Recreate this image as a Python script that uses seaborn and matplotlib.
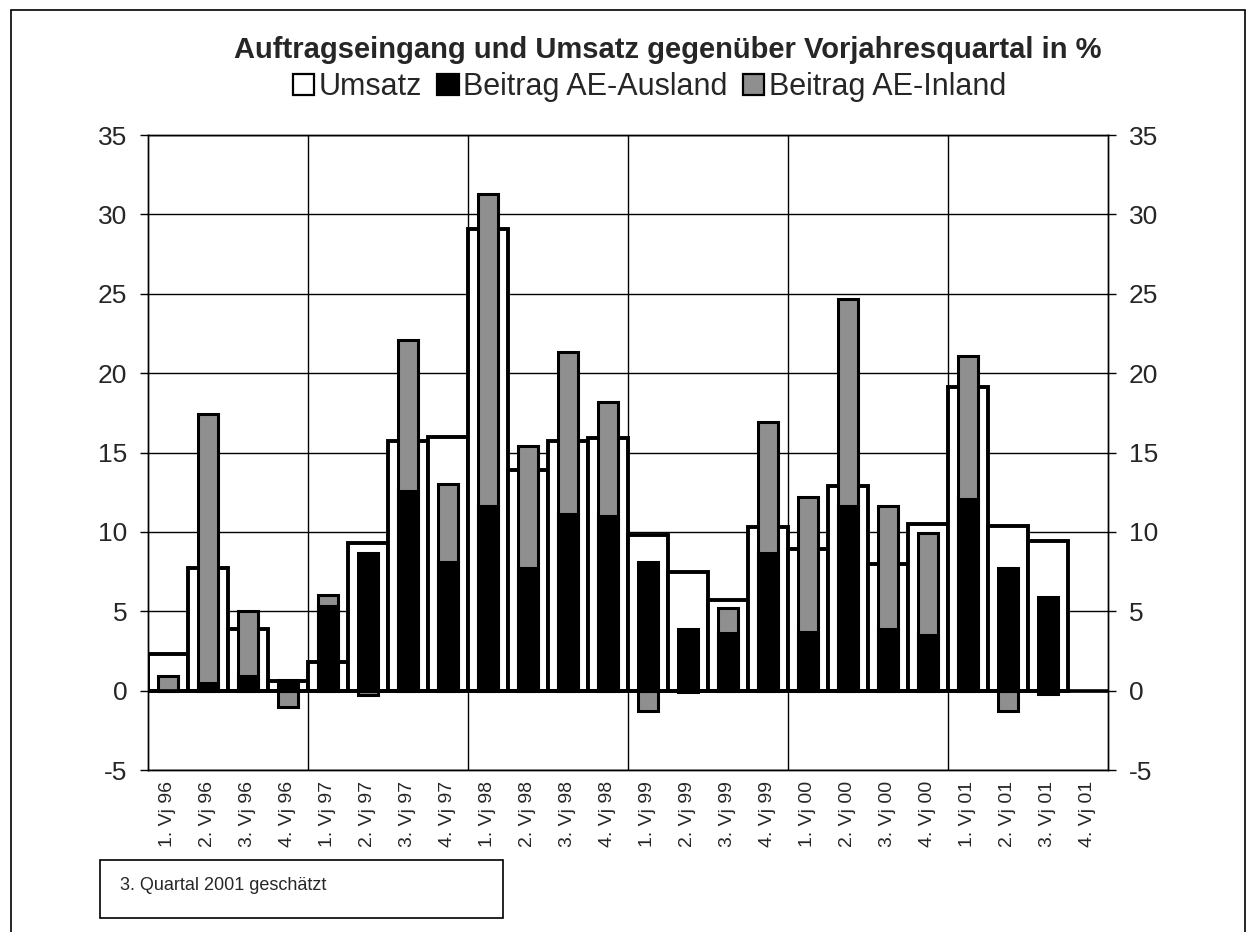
import numpy as np
import pandas as pd
import matplotlib
matplotlib.use('Agg')
import matplotlib.pyplot as plt
from matplotlib.patches import Rectangle, Patch
import seaborn as sns

# Quarterly change vs. previous-year quarter in %
quarters = ['1. Vj 96', '2. Vj 96', '3. Vj 96', '4. Vj 96',
            '1. Vj 97', '2. Vj 97', '3. Vj 97', '4. Vj 97',
            '1. Vj 98', '2. Vj 98', '3. Vj 98', '4. Vj 98',
            '1. Vj 99', '2. Vj 99', '3. Vj 99', '4. Vj 99',
            '1. Vj 00', '2. Vj 00', '3. Vj 00', '4. Vj 00',
            '1. Vj 01', '2. Vj 01', '3. Vj 01', '4. Vj 01']
umsatz = [2.3, 7.7, 3.9, 0.6, 1.8, 9.3, 15.7, 16.0,
          29.1, 13.9, 15.7, 15.9, 9.8, 7.5, 5.7, 10.3,
          8.9, 12.9, 8.0, 10.5, 19.1, 10.4, 9.4, np.nan]
ausland = [0.0, 0.5, 0.9, 0.7, 5.3, 8.7, 12.6, 8.1,
           11.6, 7.7, 11.1, 11.0, 8.1, 3.9, 3.6, 8.7,
           3.7, 11.6, 3.9, 3.5, 12.1, 7.7, 5.9, np.nan]
inland = [0.9, 16.9, 4.1, -1.0, 0.7, -0.3, 9.5, 4.9,
          19.7, 7.7, 10.2, 7.2, -1.3, -0.1, 1.6, 8.2,
          8.5, 13.1, 7.7, 6.4, 9.0, -1.3, -0.2, np.nan]

TITLE = 'Auftragseingang und Umsatz gegenüber Vorjahresquartal in %'
NOTE = '3. Quartal 2001 geschätzt'
GRAY = '#8f8f8f'

sns.set_style('white')
plt.rcParams['font.family'] = ['Liberation Sans', 'DejaVu Sans']
plt.rcParams['axes.unicode_minus'] = False

df = pd.DataFrame({'quartal': quarters, 'umsatz': umsatz,
                   'ausland': ausland, 'inland': inland})
# Excel-style stacking: positive Inland sits on Ausland, negative hangs below zero
df['inland_top'] = np.where(df['inland'] >= 0, df['ausland'] + df['inland'], df['inland'])

W, H = 1249, 932
fig = plt.figure(figsize=(W / 100, H / 100), dpi=100)
ax = fig.add_axes([148 / W, 1 - 770 / H, 960 / W, 635 / H])

common = dict(x='quartal', order=quarters, saturation=1, errorbar=None,
              edgecolor='black', ax=ax)
sns.barplot(data=df, y='umsatz', width=1.0, color='white', linewidth=2.8, **common)
sns.barplot(data=df, y='inland_top', width=0.5, color=GRAY, linewidth=2.2, **common)
sns.barplot(data=df, y='ausland', width=0.5, color='black', linewidth=2.2, **common)

ax.axhline(0, color='black', lw=2.6, zorder=5)

ax.set_ylim(-5, 35)
ax.set_yticks(range(-5, 36, 5))
ax.set_xlim(-0.5, len(quarters) - 0.5)
ax.set_xlabel('')
ax.set_ylabel('')
ax.set_axisbelow(True)
ax.yaxis.grid(True, color='black', lw=1)
ax.set_xticks([3.5, 7.5, 11.5, 15.5, 19.5], minor=True)
ax.grid(axis='x', which='minor', color='black', lw=1)
ax.tick_params(axis='x', which='both', length=0, labelsize=14, labelrotation=90, pad=8)
ax.tick_params(axis='y', direction='out', length=6, width=1, color='black',
               labelsize=19, pad=9)
for s in ax.spines.values():
    s.set_color('black')
    s.set_linewidth(1)

ax2 = ax.twinx()
ax2.set_ylim(-5, 35)
ax2.set_yticks(range(-5, 36, 5))
ax2.tick_params(axis='y', direction='out', length=6, width=1, color='black',
                labelsize=19, pad=9)
for s in ax2.spines.values():
    s.set_color('black')
    s.set_linewidth(1)

# title and legend
fig.text(0.535, 1 - 50 / H, TITLE, ha='center', va='center',
         fontsize=21, fontweight='bold')
handles = [Patch(facecolor='white', edgecolor='black', lw=1.6),
           Patch(facecolor='black', edgecolor='black', lw=1.6),
           Patch(facecolor=GRAY, edgecolor='black', lw=1.6)]
labels = ['Umsatz', 'Beitrag AE-Ausland', 'Beitrag AE-Inland']
fig.legend(handles, labels, loc='center', bbox_to_anchor=(0.52, 1 - 87 / H),
           ncol=3, frameon=False, fontsize=22, handlelength=0.7, handleheight=0.7,
           handletextpad=0.15, columnspacing=0.5, borderaxespad=0)

# footnote box
fig.add_artist(Rectangle((100 / W, 1 - 918 / H), 403 / W, 58 / H,
                         transform=fig.transFigure, fill=False, ec='black', lw=1.2))
fig.text(120 / W, 1 - 886 / H, NOTE, ha='left', va='center', fontsize=13)

# outer frame
fig.add_artist(Rectangle((11 / W, -0.01), 1234 / W, 1.01 - 10 / H,
                         transform=fig.transFigure, fill=False, ec='black', lw=1.2))

fig.savefig('out.png', dpi=100)
